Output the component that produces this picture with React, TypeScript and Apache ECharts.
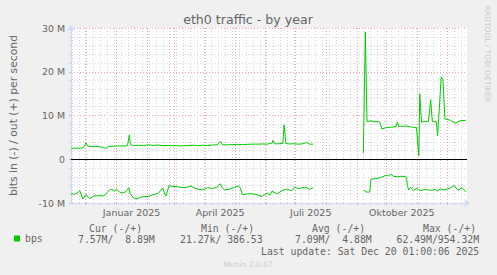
import React, { useEffect, useRef } from 'react';
import * as echarts from 'echarts';

// Left edge of the plot (the graph covers 400 days ending Sat Dec 20 2025)
const START_UTC = Date.UTC(2024, 10, 16, 7, 12);
const SPAN_DAYS = 400;

// out (+) traffic, M bits/s, days from the left edge of the plot
const outDays1 = [0, 4, 8, 12, 14, 15, 17, 21, 25, 29, 33, 35, 38, 43, 48, 53, 57, 59, 60, 63, 68, 73, 78, 83, 88, 93, 98, 103, 108, 113, 118, 123, 128, 133, 138, 143, 148, 151, 153, 158, 163, 168, 173, 178, 183, 188, 193, 198, 203, 204, 206, 210, 214, 215.3, 217, 221, 225, 229, 233, 238, 241, 244.7];
const outValues1 = [2.55, 2.5, 2.55, 2.6, 3.2, 3.75, 3.0, 2.9, 2.95, 2.85, 2.7, 2.45, 2.9, 3.0, 3.05, 3.0, 3.1, 5.6, 3.4, 3.1, 3.2, 3.1, 3.3, 3.15, 3.25, 3.1, 3.15, 3.1, 3.1, 3.05, 3.15, 3.2, 3.1, 3.2, 3.15, 3.25, 3.3, 4.05, 3.3, 3.3, 3.35, 3.4, 3.35, 3.4, 3.45, 3.45, 3.5, 3.45, 3.7, 4.3, 3.5, 3.55, 3.6, 7.9, 3.6, 3.5, 3.55, 3.45, 3.5, 3.8, 3.45, 3.45];
const outDays2 = [295.3, 297.3, 299, 303, 306, 309, 312, 314, 318, 323, 328, 329.7, 331, 333, 338, 343, 349, 351.3, 352.3, 354, 358, 361, 363.3, 365, 369, 370.3, 374, 375.7, 377.7, 383, 388, 393, 398.7];
const outValues2 = [1.4, 29.1, 8.6, 8.8, 8.6, 8.6, 8.5, 6.9, 7.2, 7.35, 7.4, 8.5, 7.5, 7.5, 7.6, 7.4, 7.25, 0.8, 15.0, 8.5, 8.6, 8.6, 13.6, 8.6, 8.55, 5.4, 18.8, 18.2, 9.2, 8.95, 8.25, 8.8, 8.89];

// in (-) traffic, M bits/s (drawn negative)
const inDays1 = [0, 4, 7, 9, 12, 15, 19, 23, 28, 33, 36, 39, 41, 44, 46, 49, 52, 55, 58.3, 60, 63, 67, 71, 78, 83, 88, 92.7, 95, 96, 99, 103, 108, 113, 117, 121, 125, 128, 133, 138, 143, 147, 151, 153, 155, 161, 165, 169, 171, 173, 178, 183, 188, 193, 198, 201, 203, 208, 213, 218, 223, 226, 230, 233, 238, 241, 244.7];
const inValues1 = [-7.9, -8.0, -7.6, -7.2, -9.1, -8.1, -9.0, -8.4, -8.3, -8.4, -7.7, -7.0, -6.9, -7.2, -6.8, -7.5, -7.7, -7.5, -6.5, -7.9, -8.8, -9.1, -8.6, -8.5, -8.1, -7.8, -6.6, -8.1, -8.4, -6.0, -6.2, -6.3, -6.5, -6.4, -6.1, -6.6, -6.8, -7.0, -6.5, -6.7, -6.4, -5.6, -6.6, -7.0, -6.8, -6.4, -6.1, -6.5, -8.1, -7.9, -7.9, -8.1, -8.5, -7.7, -8.2, -7.3, -7.9, -7.2, -6.8, -7.2, -6.3, -6.8, -6.5, -6.5, -6.9, -6.5];
const inDays2 = [295.7, 298, 301.7, 303, 308, 313, 318, 321, 323, 326, 330, 333, 338, 339, 339.7, 341, 343, 346, 350, 353, 358, 363, 368, 370, 373, 377, 383, 387, 391, 395, 399];
const inValues2 = [-7.0, -7.5, -7.5, -4.55, -4.4, -4.2, -3.7, -3.8, -3.4, -3.9, -4.0, -3.9, -3.95, -4.3, -5.9, -7.0, -6.4, -7.1, -6.6, -7.2, -6.85, -7.1, -6.9, -7.3, -6.8, -7.0, -6.6, -6.0, -7.1, -6.5, -7.5];

const quarterLabels = ['Januar 2025', 'April 2025', 'Juli 2025', 'Oktober 2025'];
const quarterMonths: [number, number][] = [[2025, 0], [2025, 3], [2025, 6], [2025, 9]];

const Y_MIN = -10;
const Y_MAX = 30;
const Y_INTERVAL = 10;

const titleText = 'eth0 traffic - by year';
const yAxisTitle = 'bits in (-) / out (+) per second';
const seriesName = 'bps';
const legendHeaders = ['Cur (-/+)', 'Min (-/+)', 'Avg (-/+)', 'Max (-/+)'];
const legendValues = ['7.57M/  8.89M', '21.27k/ 386.53', '7.09M/  4.88M', '62.49M/954.32M'];
const lastUpdate = 'Last update: Sat Dec 20 01:00:06 2025';
const watermark = 'RRDTOOL / TOBI OETIKER';
const version = 'Munin 2.0.67';

const DAY = 86400000;
const dayOf = (y: number, m: number, d: number) => (Date.UTC(y, m, d) - START_UTC) / DAY;

const monthStarts: number[] = [];
for (let i = 0; i < 13; i++) monthStarts.push(dayOf(2024, 11 + i, 1));
const mondays: number[] = [];
for (let d = dayOf(2024, 10, 18); d <= SPAN_DAYS; d += 7) mondays.push(d);
const labelDays = quarterMonths.map(([y, m]) => (dayOf(y, m, 1) + dayOf(y, m + 1, 1)) / 2);

const zip = (xs: number[], ys: number[]) => xs.map((x, i) => [x, ys[i]] as (number | string)[]);
const joinSegments = (a: (number | string)[][], b: (number | string)[][]) => {
  const gap = ((a[a.length - 1][0] as number) + (b[0][0] as number)) / 2;
  return [...a, [gap, '-'], ...b];
};

const outData = joinSegments(zip(outDays1, outValues1), zip(outDays2, outValues2));
const inData = joinSegments(zip(inDays1, inValues1), zip(inDays2, inValues2));

const FONT = '#666666';
const AXIS = '#CFD6F8';
const RED = '#e9a3a3';
const GREY = '#d4d4d4';
const GREEN = '#00cc00';
const SANS = 'DejaVu Sans';
const MONO = 'DejaVu Sans Mono';

const gridAxis = (values: number[], color: string) => ({
  type: 'value',
  min: 0,
  max: SPAN_DAYS,
  position: 'bottom',
  axisLine: { show: false, onZero: false },
  axisLabel: { show: false },
  axisTick: { show: true, customValues: values, length: 2, lineStyle: { color } },
  splitLine: { show: true, lineStyle: { color, type: [1, 2], width: 1 } },
});

const headerX = [89, 201, 312, 423];
const valueX = [78, 180, 295, 396.5];

export default function App() {
  const ref = useRef<HTMLDivElement>(null);
  useEffect(() => {
    if (!ref.current) return;
    const chart = echarts.init(ref.current, undefined, { renderer: 'svg', width: 497, height: 275 });
    const monoText = (text: string, x: number, y: number, fill = FONT) => ({
      type: 'text',
      x,
      y,
      silent: true,
      style: { text, fill, fontFamily: MONO, fontSize: 9.8, align: 'left', verticalAlign: 'middle', textAlign: 'left', textVerticalAlign: 'middle' },
    });
    chart.setOption({
      animation: false,
      backgroundColor: '#f0f0f0',
      grid: { left: 67, top: 28, width: 400, height: 175, show: true, backgroundColor: '#ffffff', borderWidth: 0 },
      legend: {
        data: [seriesName],
        left: 14,
        top: 233.5,
        padding: 0,
        icon: 'rect',
        itemWidth: 6,
        itemHeight: 6,
        selectedMode: false,
        textStyle: { color: FONT, fontFamily: MONO, fontSize: 9.8 },
      },
      xAxis: [
        {
          type: 'value',
          min: 0,
          max: SPAN_DAYS,
          position: 'bottom',
          z: 3,
          axisLine: { show: true, onZero: false, lineStyle: { color: AXIS, width: 1 }, symbol: ['none', 'arrow'], symbolSize: [6, 6], symbolOffset: [0, 3] },
          axisTick: { show: false },
          axisLabel: {
            customValues: labelDays,
            color: FONT,
            fontFamily: SANS,
            fontSize: 9.5,
            margin: 4,
            formatter: (v: number) => {
              const i = labelDays.findIndex((d) => Math.abs(d - v) < 0.01);
              return i >= 0 ? quarterLabels[i] : '';
            },
          },
          splitLine: { show: false },
        },
        gridAxis(mondays, GREY),
        gridAxis(monthStarts, RED),
      ],
      yAxis: {
        type: 'value',
        min: Y_MIN,
        max: Y_MAX,
        interval: Y_INTERVAL,
        axisLine: { show: true, onZero: false, lineStyle: { color: AXIS, width: 1 }, symbol: ['none', 'arrow'], symbolSize: [6, 6], symbolOffset: [0, 3] },
        axisTick: { show: true, length: 2, lineStyle: { color: RED } },
        minorTick: { show: true, splitNumber: 5, length: 2, lineStyle: { color: GREY } },
        axisLabel: {
          color: FONT,
          fontFamily: SANS,
          fontSize: 9.4,
          margin: 6,
          formatter: (v: number) => (v === 0 ? '0' : `${v} M`),
        },
        splitLine: { show: true, showMinLine: false, lineStyle: { color: RED, type: [1, 2], width: 1 } },
        minorSplitLine: { show: true, lineStyle: { color: GREY, type: [1, 2], width: 1 } },
        name: yAxisTitle,
        nameLocation: 'middle',
        nameRotate: 90,
        nameGap: 52,
        nameTextStyle: { color: FONT, fontFamily: SANS, fontSize: 10.8 },
      },
      series: [
        {
          name: seriesName,
          type: 'line',
          xAxisIndex: 0,
          data: outData,
          showSymbol: false,
          connectNulls: false,
          itemStyle: { color: GREEN },
          lineStyle: { color: GREEN, width: 1 },
          markLine: {
            silent: true,
            symbol: 'none',
            label: { show: false },
            lineStyle: { color: '#000000', width: 1.2, type: 'solid' },
            data: [{ yAxis: 0 }],
          },
        },
        {
          name: seriesName + ' in',
          type: 'line',
          xAxisIndex: 0,
          data: inData,
          showSymbol: false,
          connectNulls: false,
          itemStyle: { color: GREEN },
          lineStyle: { color: GREEN, width: 1 },
        },
      ],
      graphic: [
        {
          type: 'text',
          x: 248,
          y: 19.5,
          silent: true,
          style: { text: titleText, fill: FONT, fontFamily: SANS, fontSize: 12.6, align: 'center', verticalAlign: 'middle', textAlign: 'center', textVerticalAlign: 'middle' },
        },
        {
          type: 'text',
          x: 487.7,
          y: 54,
          rotation: -Math.PI / 2,
          silent: true,
          style: { text: watermark, fill: '#cccccc', fontFamily: SANS, fontSize: 7.5, align: 'center', verticalAlign: 'middle', textAlign: 'center', textVerticalAlign: 'middle' },
        },
        {
          type: 'text',
          x: 248,
          y: 264.5,
          silent: true,
          style: { text: version, fill: '#cccccc', fontFamily: SANS, fontSize: 7.5, align: 'center', verticalAlign: 'middle', textAlign: 'center', textVerticalAlign: 'middle' },
        },
        ...legendHeaders.map((t, i) => monoText(t, headerX[i], 228)),
        ...legendValues.map((t, i) => monoText(t, valueX[i], 239.5)),
        monoText(lastUpdate, 261, 251.7),
      ],
    });
    return () => chart.dispose();
  }, []);
  return <div ref={ref} style={{ position: 'fixed', left: 0, top: 0, width: 497, height: 275 }} />;
}
